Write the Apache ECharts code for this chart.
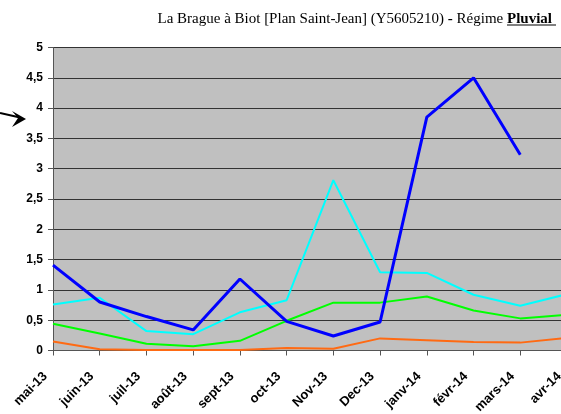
<!DOCTYPE html>
<html>
<head>
<meta charset="utf-8">
<script src="https://cdn.jsdelivr.net/npm/echarts@6/dist/echarts.min.js"></script>
<style>html,body{margin:0;padding:0;background:#fff;}#c{width:561px;height:414px;}</style>
</head>
<body>
<div id="c"></div>
<script>
var categories = ['mai-13','juin-13','juil-13','août-13','sept-13','oct-13','Nov-13','Dec-13','janv-14','févr-14','mars-14','avr-14'];
var blueValues   = [1.41, 0.80, 0.56, 0.34, 1.18, 0.48, 0.24, 0.47, 3.85, 4.50, 3.23, null];
var cyanValues   = [0.76, 0.87, 0.32, 0.27, 0.63, 0.83, 2.81, 1.29, 1.28, 0.92, 0.74, 0.93];
var greenValues  = [0.44, 0.28, 0.11, 0.07, 0.16, 0.49, 0.79, 0.79, 0.89, 0.66, 0.53, 0.59];
var orangeValues = [0.15, 0.02, 0.01, 0.01, 0.01, 0.04, 0.03, 0.20, 0.17, 0.14, 0.13, 0.21];
var yTicks = [0, 0.5, 1, 1.5, 2, 2.5, 3, 3.5, 4, 4.5, 5];

var chart = echarts.init(document.getElementById('c'), null, {renderer: 'canvas'});
var lbl = {fontFamily: 'Liberation Sans, Arial, sans-serif', fontWeight: 'bold', fontSize: 12, color: '#000'};
function line(name, data, color, width) {
  return {name: name, type: 'line', data: data, symbol: 'none', connectNulls: false,
    lineStyle: {color: color, width: width}, itemStyle: {color: color}, animation: false};
}
var serif = 'Liberation Serif, Times New Roman, serif';
chart.setOption({
  animation: false,
  title: {
    text: '{n|La Brague à Biot [Plan Saint-Jean] (Y5605210) }{b|-}{n| Régime }{b|Pluvial}',
    right: 4, top: 7,
    textStyle: {
      fontWeight: 'normal', fontFamily: serif, fontSize: 15,
      rich: {
        n: {fontFamily: serif, fontSize: 15, fontWeight: 'normal', color: '#000'},
        b: {fontFamily: serif, fontSize: 15, fontWeight: 'bold', color: '#000'}
      }
    }
  },
  grid: {left: 53, width: 514, top: 47.5, bottom: 63.5, outerBoundsMode: 'none', containLabel: false,
    show: true, backgroundColor: '#C0C0C0', borderWidth: 0},
  xAxis: {
    type: 'category', data: categories, boundaryGap: false,
    axisLine: {lineStyle: {color: '#555', width: 1}},
    axisTick: {show: true, length: 5, lineStyle: {color: '#555'}},
    axisLabel: Object.assign({}, lbl, {fontSize: 13, rotate: 45, interval: 0, margin: 16, padding: [0, 11, 0, 0]}),
    splitLine: {show: false}
  },
  yAxis: {
    type: 'value', min: yTicks[0], max: yTicks[yTicks.length - 1], interval: 0.5,
    axisLine: {show: true, lineStyle: {color: '#555', width: 1}},
    axisTick: {show: true, length: 5, lineStyle: {color: '#555'}},
    axisLabel: Object.assign({margin: 10, formatter: function (v) { return String(v).replace('.', ','); }}, lbl),
    splitLine: {show: true, lineStyle: {color: '#333', width: 1}}
  },
  series: [
    line('orange', orangeValues, '#FF6A13', 2),
    line('green', greenValues, '#00FF00', 2),
    line('cyan', cyanValues, '#00FFFF', 2),
    line('blue', blueValues, '#0000FF', 3)
  ],
  graphic: [
    {type: 'line', shape: {x1: 507, y1: 25, x2: 556, y2: 25}, style: {stroke: '#000', lineWidth: 1.2}},
    {type: 'line', shape: {x1: 0, y1: 113, x2: 20, y2: 117.5}, style: {stroke: '#000', lineWidth: 2}},
    {type: 'polygon', shape: {points: [[26, 119], [12, 111], [18, 118], [12, 127]]}, style: {fill: '#000'}}
  ]
});
</script>
</body>
</html>
